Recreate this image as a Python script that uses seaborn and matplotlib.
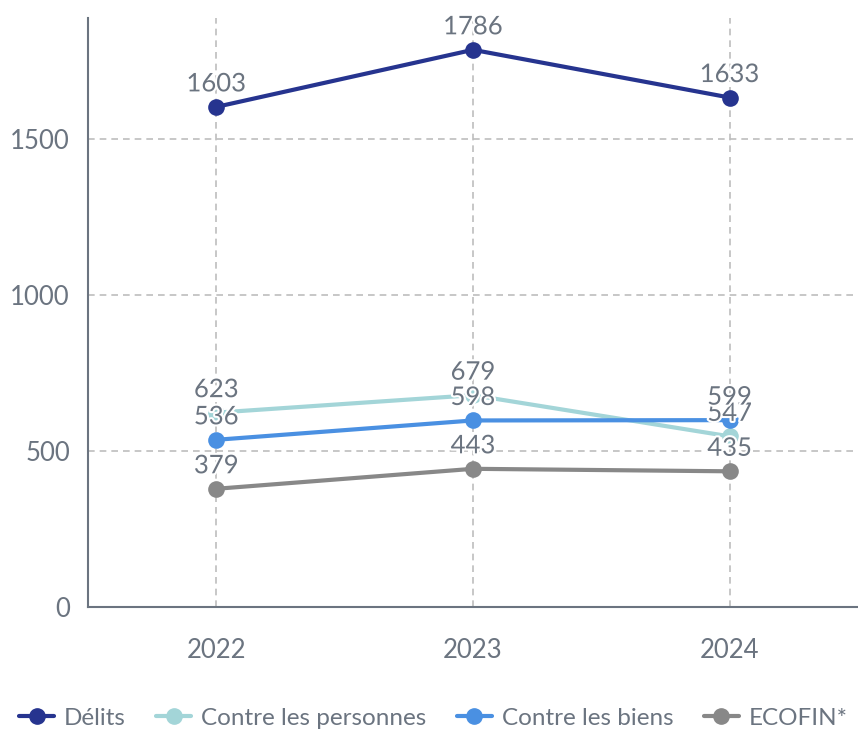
import pandas as pd
import matplotlib.pyplot as plt
import matplotlib.patheffects as pe
import seaborn as sns

annees = ['2022', '2023', '2024']
series = ['Délits', 'Contre les personnes', 'Contre les biens', 'ECOFIN*']
delits = [1603, 1786, 1633]
personnes = [623, 679, 547]
biens = [536, 598, 599]
ecofin = [379, 443, 435]
couleurs = ['#26348f', '#a3d5d8', '#4a90e2', '#888888']

texte = '#6b7480'

df = pd.DataFrame({
    'annee': annees * 4,
    'serie': [s for s in series for _ in annees],
    'valeur': delits + personnes + biens + ecofin,
})

sns.set_style('white')
plt.rcParams['font.family'] = ['Lato', 'DejaVu Sans']

fig = plt.figure(figsize=(8.58, 7.31), dpi=100)
ax = fig.add_axes([0.1026, 0.1696, 0.8974, 0.8058])

sns.lineplot(data=df, x='annee', y='valeur', hue='serie', palette=couleurs,
             marker='o', markersize=12, markeredgewidth=0, linewidth=3,
             sort=False, ax=ax, legend=False, zorder=3)

for i, s in enumerate(series):
    sub = df[df['serie'] == s]
    for j, (x, v) in enumerate(zip(sub['annee'], sub['valeur'])):
        ax.annotate(str(v), (j, v), xytext=(0, 23), textcoords='offset pixels',
                    ha='center', va='center', fontsize=18.5, color=texte, zorder=5,
                    path_effects=[pe.withStroke(linewidth=3, foreground='white')])

ax.set_xlim(-0.5, 2.5)
ax.set_ylim(0, 1888)
ax.set_yticks([0, 500, 1000, 1500])
ax.grid(True, color='#bdbdbd', linestyle=(0, (4, 3)), linewidth=1.2)
ax.set_axisbelow(True)
for sp in ['top', 'right']:
    ax.spines[sp].set_visible(False)
for sp in ['left', 'bottom']:
    ax.spines[sp].set_color(texte)
    ax.spines[sp].set_linewidth(1.5)
ax.tick_params(length=0, labelsize=18.5, labelcolor=texte)
ax.tick_params(axis='y', pad=13)
ax.tick_params(axis='x', pad=22)
ax.set_xlabel('')
ax.set_ylabel('')

handles = [plt.Line2D([], [], color=c, marker='o', markersize=11, linewidth=3) for c in couleurs]
fig.legend(handles, series, loc='lower center', bbox_to_anchor=(0.505, -0.027), ncol=4,
           frameon=False, fontsize=17.5, labelcolor=texte, handlelength=1.45,
           handletextpad=0.4, columnspacing=1.25)

fig.savefig('out.png', dpi=100)
